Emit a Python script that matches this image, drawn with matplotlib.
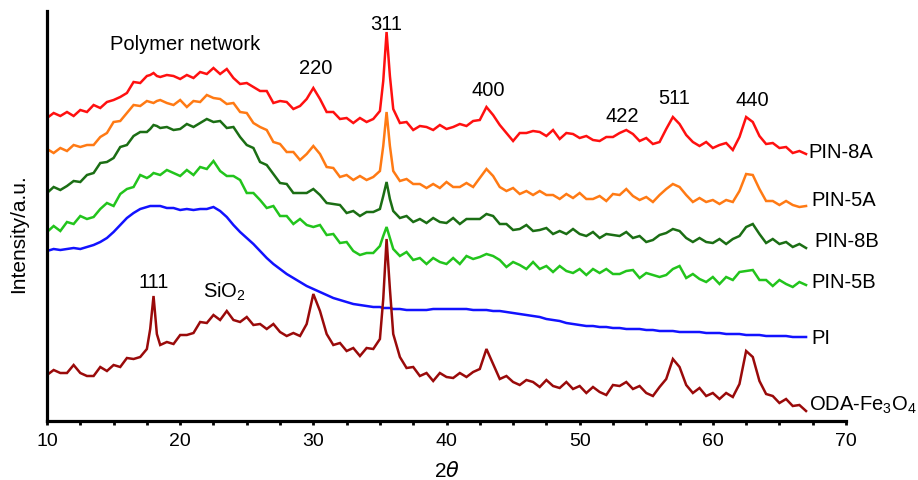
import matplotlib
matplotlib.use("Agg")
import matplotlib.pyplot as plt
from matplotlib.ticker import MultipleLocator

plt.rcParams['font.family'] = ['Liberation Sans', 'DejaVu Sans']
plt.rcParams['mathtext.default'] = 'regular'

# 2-theta grid (degrees)
two_theta = [10.0, 10.5, 11.0, 11.5, 12.0, 12.5, 13.0, 13.5, 14.0, 14.5,
             15.0, 15.5, 16.0, 16.5, 17.0, 17.5, 17.75, 18.0, 18.25, 18.5,
             19.0, 19.5, 20.0, 20.5, 21.0, 21.5, 22.0, 22.5, 23.0, 23.5,
             24.0, 24.5, 25.0, 25.5, 26.0, 26.5, 27.0, 27.5, 28.0, 28.5,
             29.0, 29.5, 30.0, 30.5, 31.0, 31.5, 32.0, 32.5, 33.0, 33.5,
             34.0, 34.5, 35.0, 35.25, 35.5, 35.75, 36.0, 36.5, 37.0, 37.5,
             38.0, 38.5, 39.0, 39.5, 40.0, 40.5, 41.0, 41.5, 42.0, 42.5,
             43.0, 43.5, 44.0, 44.5, 45.0, 45.5, 46.0, 46.5, 47.0, 47.5,
             48.0, 48.5, 49.0, 49.5, 50.0, 50.5, 51.0, 51.5, 52.0, 52.5,
             53.0, 53.5, 54.0, 54.5, 55.0, 55.5, 56.0, 56.5, 57.0, 57.5,
             58.0, 58.5, 59.0, 59.5, 60.0, 60.5, 61.0, 61.5, 62.0, 62.5,
             63.0, 63.5, 64.0, 64.5, 65.0, 65.5, 66.0, 66.5, 67.0]

# Intensities (a.u., offset-stacked as in the figure)
pin_8a = [303, 308, 305, 309, 305, 311, 309, 316, 313, 319,
          321, 324, 328, 339, 338, 345, 346, 348, 345, 344,
          346, 345, 342, 346, 343, 349, 347, 353, 347, 352,
          343, 337, 338, 334, 330, 330, 318, 320, 319, 312,
          315, 322, 333, 322, 309, 309, 302, 303, 298, 303,
          299, 302, 310, 340, 389, 345, 312, 298, 299, 291,
          295, 294, 291, 296, 292, 294, 297, 295, 300, 301,
          314, 306, 296, 288, 280, 288, 288, 290, 289, 285,
          291, 282, 288, 287, 283, 285, 281, 280, 284, 284,
          288, 291, 287, 280, 283, 277, 279, 292, 304, 297,
          286, 279, 275, 279, 273, 276, 278, 271, 284, 304,
          299, 285, 277, 278, 273, 274, 268, 270, 267]

pin_5a = [272, 268, 273, 270, 276, 274, 276, 276, 284, 288,
          299, 300, 308, 316, 315, 320, 319, 318, 320, 321,
          318, 316, 321, 314, 320, 319, 326, 323, 322, 317,
          318, 309, 308, 298, 294, 291, 279, 277, 269, 269,
          261, 267, 275, 267, 254, 253, 244, 246, 241, 245,
          241, 244, 250, 275, 309, 275, 250, 240, 242, 237,
          237, 233, 237, 233, 239, 234, 234, 238, 234, 243,
          252, 245, 234, 230, 233, 227, 230, 226, 230, 226,
          226, 222, 227, 223, 228, 222, 222, 225, 220, 227,
          226, 232, 225, 221, 224, 219, 226, 232, 237, 234,
          226, 219, 223, 219, 221, 217, 221, 219, 230, 247,
          246, 232, 220, 220, 216, 220, 216, 214, 215]

pin_8b = [228, 234, 231, 235, 240, 239, 246, 248, 258, 259,
          263, 274, 276, 285, 289, 289, 292, 296, 295, 293,
          294, 291, 292, 297, 294, 298, 302, 299, 300, 293,
          294, 284, 276, 273, 259, 256, 247, 238, 237, 228,
          228, 228, 232, 226, 218, 217, 216, 208, 210, 205,
          209, 209, 212, 225, 239, 222, 210, 203, 205, 199,
          202, 198, 203, 199, 198, 203, 197, 202, 202, 202,
          207, 205, 197, 197, 191, 192, 196, 190, 191, 193,
          187, 190, 187, 192, 187, 185, 189, 183, 187, 186,
          185, 189, 183, 185, 179, 181, 186, 188, 192, 190,
          183, 179, 183, 179, 178, 182, 177, 182, 185, 194,
          197, 187, 178, 182, 177, 179, 174, 177, 173]

pin_5b = [189, 195, 190, 199, 197, 205, 202, 204, 212, 218,
          215, 227, 232, 234, 246, 243, 245, 248, 247, 246,
          251, 248, 245, 251, 246, 254, 252, 260, 250, 245,
          245, 241, 228, 228, 221, 213, 215, 205, 205, 197,
          202, 196, 194, 196, 186, 187, 178, 179, 170, 166,
          168, 168, 175, 185, 194, 183, 172, 165, 169, 161,
          163, 157, 163, 159, 157, 163, 157, 165, 162, 164,
          167, 165, 161, 154, 159, 156, 152, 159, 152, 155,
          149, 155, 150, 148, 152, 146, 152, 148, 152, 147,
          147, 150, 151, 143, 148, 146, 144, 146, 152, 155,
          143, 147, 142, 139, 144, 137, 144, 141, 149, 150,
          151, 141, 141, 135, 141, 137, 134, 139, 136]

pi_film = [170, 172, 171, 172, 173, 172, 174, 176, 179, 183,
           189, 196, 203, 208, 212, 214, 215, 215, 215, 215,
           213, 213, 211, 212, 211, 212, 212, 214, 210, 204,
           196, 189, 183, 177, 170, 163, 157, 152, 147, 143,
           139, 135, 132, 129, 126, 123, 121, 119, 117, 116,
           115, 114, 114, 113, 113, 113, 112, 112, 111, 111,
           111, 111, 112, 112, 112, 112, 112, 112, 111, 111,
           111, 110, 110, 109, 108, 107, 106, 105, 104, 102,
           101, 100, 98, 97, 96, 95, 95, 94, 94, 93,
           93, 92, 92, 92, 91, 91, 90, 90, 90, 89,
           89, 89, 89, 88, 88, 88, 87, 87, 87, 86,
           86, 86, 85, 85, 85, 85, 84, 84, 84]

oda_fe3o4 = [46, 51, 48, 48, 56, 48, 45, 45, 54, 50,
             56, 54, 63, 62, 64, 72, 92, 125, 87, 76,
             79, 77, 86, 86, 88, 99, 98, 106, 101, 110,
             101, 99, 104, 96, 97, 92, 97, 89, 85, 88,
             85, 97, 127, 110, 87, 76, 78, 70, 73, 65,
             73, 72, 82, 122, 182, 132, 87, 64, 53, 54,
             45, 48, 40, 48, 44, 43, 48, 44, 49, 52,
             72, 57, 42, 45, 39, 36, 41, 39, 34, 41,
             35, 33, 39, 32, 35, 28, 34, 29, 26, 36,
             35, 39, 32, 35, 28, 25, 34, 42, 62, 54,
             36, 28, 33, 25, 28, 22, 28, 24, 37, 70,
             64, 40, 27, 25, 18, 22, 15, 16, 10]

series_names = ["PIN-8A", "PIN-5A", "PIN-8B", "PIN-5B", "PI", "ODA-Fe$_3$O$_4$"]
series_values = [pin_8a, pin_5a, pin_8b, pin_5b, pi_film, oda_fe3o4]
series_colors = ["#ff1010", "#ff7a14", "#1b6e14", "#22c41c", "#1212ff", "#9a0a0a"]
label_pos = [(67.2, 269), (67.4, 221), (67.6, 180), (67.4, 140), (67.4, 84), (67.2, 17)]

peak_labels = ["Polymer network", "220", "311", "400", "422", "511", "440", "111", "SiO$_2$"]
peak_pos = [(20.4, 377), (30.2, 354), (35.5, 397), (43.1, 332), (53.2, 305),
            (57.1, 324), (63.0, 322), (18.0, 139), (23.3, 130)]

fig = plt.figure(figsize=(9.18, 4.81), dpi=100)
ax = fig.add_axes([47 / 918, (481 - 422) / 481, (846 - 47) / 918, (422 - 12) / 481])

for vals, col in zip(series_values, series_colors):
    ax.plot(two_theta, vals, color=col, lw=1.8, solid_joinstyle='miter')

for name, (lx, ly) in zip(series_names, label_pos):
    ax.text(lx, ly, name, fontsize=14.5, ha='left', va='center', color='black')

for txt, (tx, ty) in zip(peak_labels, peak_pos):
    ax.text(tx, ty, txt, fontsize=14.5, ha='center', va='center', color='black')

ax.set_xlim(10, 70)
ax.set_ylim(0, 410)
ax.xaxis.set_major_locator(MultipleLocator(10))
ax.xaxis.set_minor_locator(MultipleLocator(2.5))
ax.tick_params(axis='x', which='both', direction='out', length=3, width=2,
               labelsize=14, pad=5)
ax.set_yticks([])
for s in ['top', 'right']:
    ax.spines[s].set_visible(False)
for s in ['left', 'bottom']:
    ax.spines[s].set_linewidth(2.3)

ax.set_xlabel(r"2$\mathit{\theta}$", fontsize=15, labelpad=8)
ax.set_ylabel("Intensity/a.u.", fontsize=15)
ax.yaxis.set_label_coords(-0.024, 0.459)

fig.savefig("out.png", dpi=100)
